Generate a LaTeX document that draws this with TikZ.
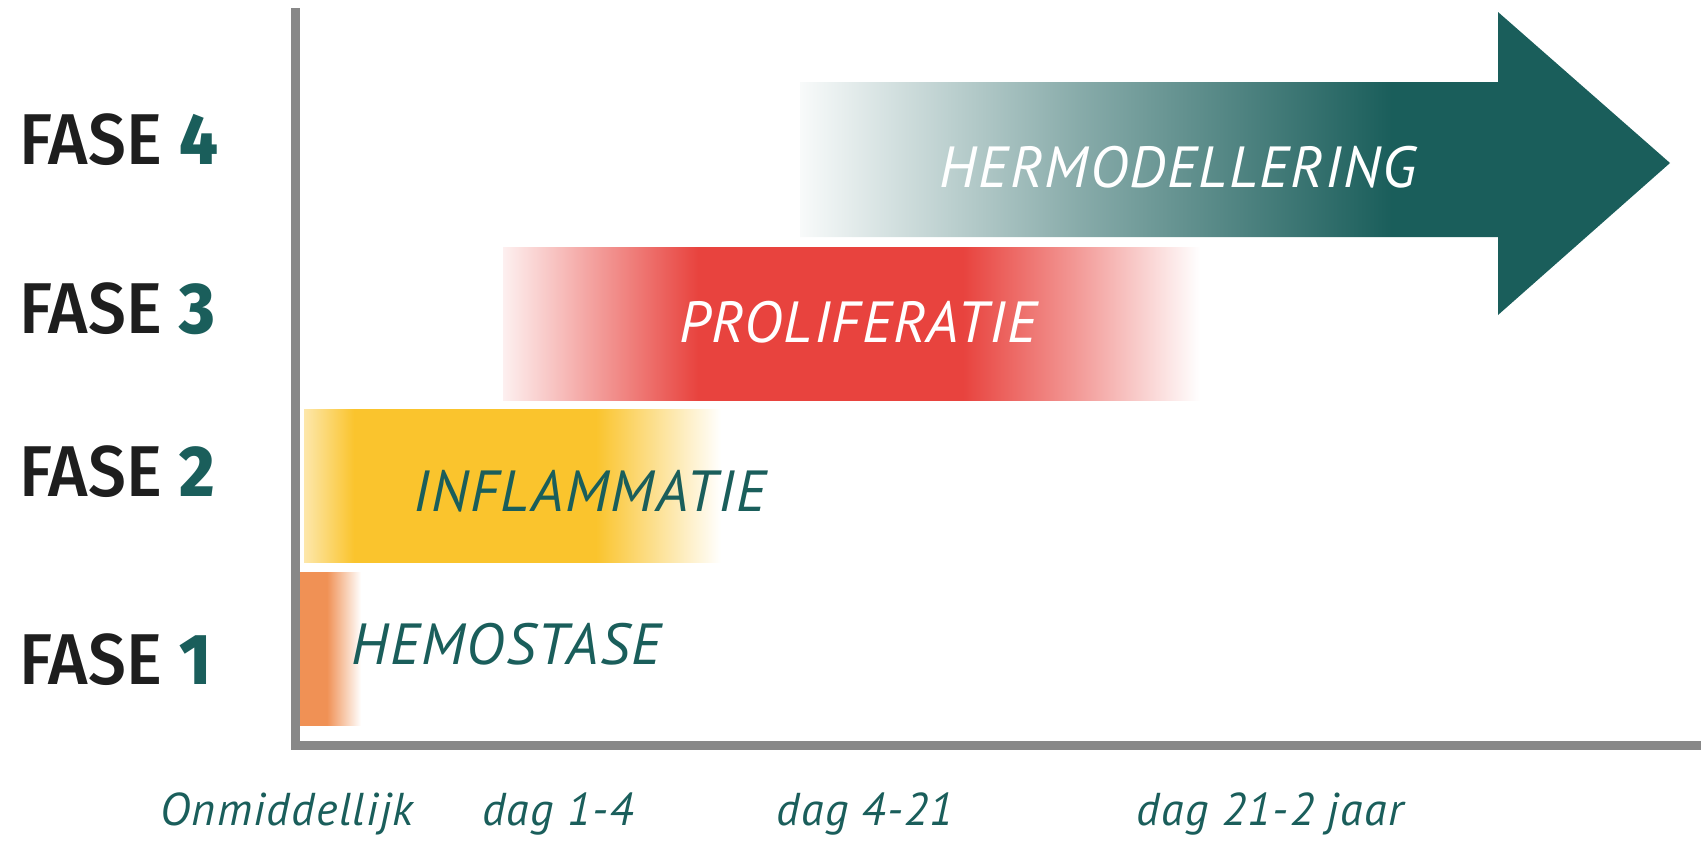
\documentclass[tikz,border=0pt]{standalone}
\usepackage		 {fontspec}
\setmainfont{Fira Sans}
\newfontfamily\fasefont{Fira Sans Medium}[FakeStretch=0.94]
\newfontfamily\handfont{PT Sans}[LetterSpace=3]
\usepackage		 {xcolor   }
\usepackage		 {tikz	  }
\usetikzlibrary{shapes,calc,positioning}

\definecolor{fasegroen}{RGB}{26,94,91}
\definecolor{asgrijs}{RGB}{136,136,136}
\definecolor{oranje}{RGB}{240,145,85}
\definecolor{geel}{RGB}{250,196,45}
\definecolor{rood}{RGB}{232,67,62}
\definecolor{tekst}{RGB}{30,30,30}

\pgfdeclarehorizontalshading{hemo}{100bp}{color(0bp)=(oranje); color(25bp)=(oranje); color(47bp)=(oranje); color(75bp)=(white); color(100bp)=(white)}
\pgfdeclarehorizontalshading{infl}{100bp}{color(0bp)=(geel!40!white); color(25bp)=(geel!40!white); color(31bp)=(geel); color(60bp)=(geel); color(75bp)=(white); color(100bp)=(white)}
\pgfdeclarehorizontalshading{prol}{100bp}{color(0bp)=(rood!8!white); color(25bp)=(rood!8!white); color(39bp)=(rood); color(58bp)=(rood); color(66bp)=(rood!55!white); color(75bp)=(white); color(100bp)=(white)}
\pgfdeclarehorizontalshading{hermo}{100bp}{color(0bp)=(fasegroen!3!white); color(25bp)=(fasegroen!3!white); color(41bp)=(fasegroen!52!white); color(59bp)=(fasegroen); color(100bp)=(fasegroen)}

\begin{document}
\begin{tikzpicture}[x=1pt,y=-1pt]
  \tikzset{ fase/.style={anchor=west,inner sep=0pt,text=tekst,font=\fontsize{72}{72}\selectfont\fasefont},
    lbl/.style={inner sep=0pt,font=\fontsize{58}{58}\selectfont\handfont\itshape},
    tijd/.style={anchor=base,inner sep=0pt,text=fasegroen,font=\fontsize{46}{46}\selectfont\handfont\itshape},
    as/.style={draw=asgrijs,line width=9pt,line join=miter},
  }
  \useasboundingbox (0,0) rectangle (1701,841);

  % the phase bars
  \shade[shading=hermo] (800,82) -- (1498,82) -- (1498,12) -- (1670,163)
    -- (1498,315) -- (1498,237) -- (800,237) -- cycle;
  \shade[shading=prol] (503,247) rectangle (1200,400);
  \shade[shading=infl] (304,409) rectangle (721,562);
  \shade[shading=hemo] (300,572) rectangle (361,725);

  % the axes
  \draw[as] (295,8) -- (295,745) -- (1701,745);

  \node[fase] (f4) at (19,140) {FASE \textcolor{fasegroen}{\bfseries 4}};
  \node[fase] (f3) at (19,309) {FASE \textcolor{fasegroen}{\bfseries 3}};
  \node[fase] (f2) at (19,472) {FASE \textcolor{fasegroen}{\bfseries 2}};
  \node[fase] (f1) at (19,660) {FASE \textcolor{fasegroen}{\bfseries 1}};

  \node[lbl,text=white] (hermo) at (1178,167) {HERMODELLERING};
  \node[lbl,text=white] (prol) at (858,322) {PROLIFERATIE};
  \node[lbl,text=fasegroen] (infl) at (590,491) {INFLAMMATIE};
  \node[lbl,text=fasegroen] (hemo) at (506,644) {HEMOSTASE};

  % time labels under the axis
  \node[tijd] (t1) at (287,825) {Onmiddellijk};
  \node[tijd] (t2) at (558,825) {dag 1-4};
  \node[tijd] (t3) at (865,825) {dag 4-21};
  \node[tijd] (t4) at (1270,825) {dag 21-2 jaar};
\end{tikzpicture}
\end{document}
